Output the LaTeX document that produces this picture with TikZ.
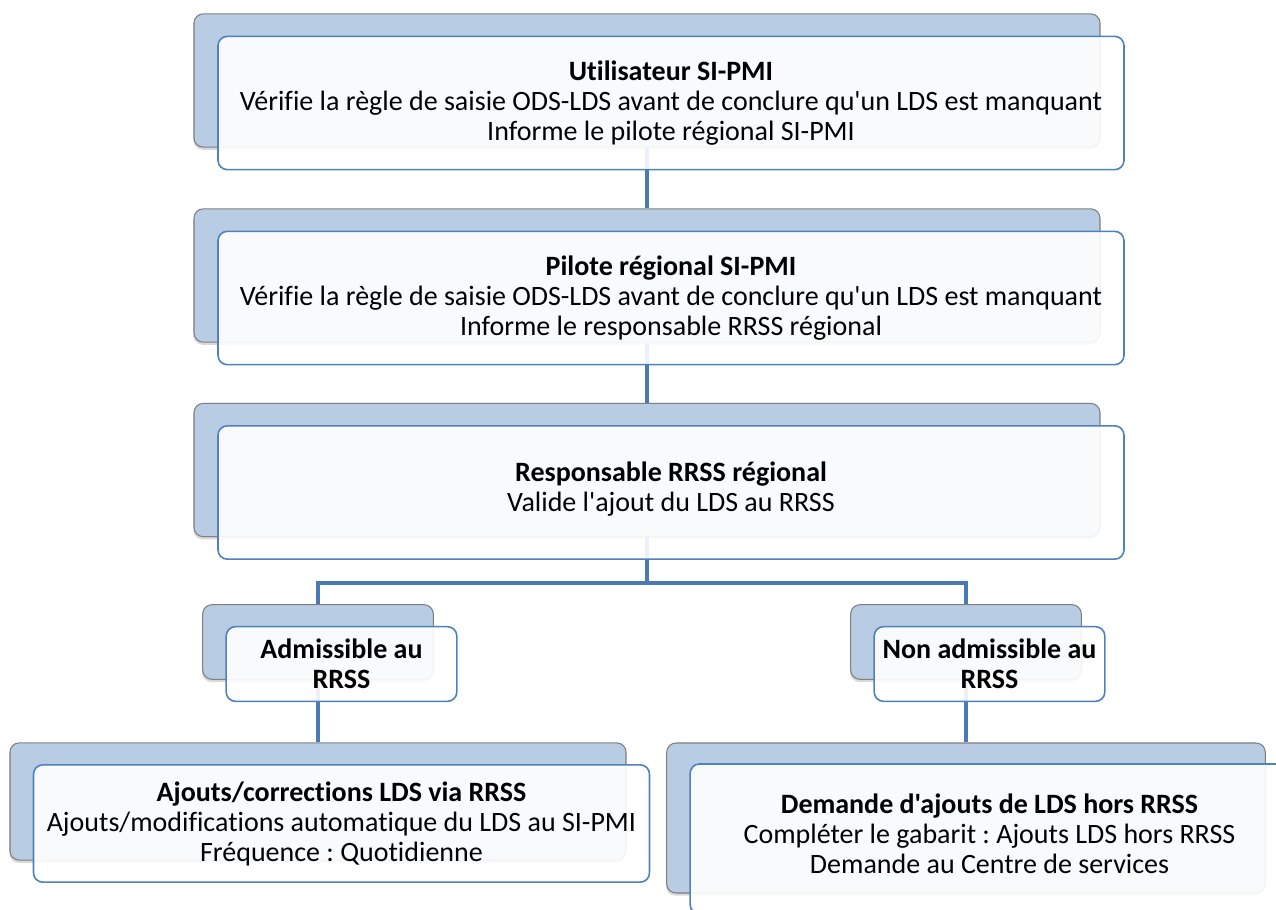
\documentclass[tikz,border=0pt]{standalone}
\usepackage{fontspec}
\setmainfont{Carlito}[Ligatures={TeXOff,NoCommon}]
\usetikzlibrary{calc,backgrounds,shadows}
\definecolor{backfill}{HTML}{B8CCE4}
\definecolor{backline}{HTML}{7F7F7F}
\definecolor{frontline}{HTML}{4F81BD}
\definecolor{linkblue}{HTML}{4A7AB5}
\frenchspacing
\tikzset{
  every node/.style={font=\fontsize{21}{22.5}\selectfont,text=black},
  backbox/.style={draw=backline,line width=0.8pt,fill=backfill,rounded corners=7pt,inner sep=0pt,
    drop shadow={shadow xshift=-0.5pt,shadow yshift=-2pt,opacity=0.3}},
  frontbox/.style={draw=frontline,line width=1.2pt,fill=white,fill opacity=0.9,text opacity=1,
    rounded corners=7pt,align=center,inner sep=0pt},
  bigbox/.style={minimum width=679.5pt,minimum height=100pt},
  smallbox/.style={minimum width=173pt,minimum height=56pt},
  leftbox/.style={minimum width=462pt,minimum height=88pt},
  rightbox/.style={minimum width=449pt,minimum height=112.5pt},
  connector/.style={draw=linkblue,line width=3pt},
}

\begin{document}
\begin{tikzpicture}[x=0.75pt,y=-0.75pt]
\useasboundingbox (0,0) rectangle (1276,909);
\node[backbox,bigbox] (user-b) at (647,80.5) {};
\node[frontbox,bigbox] (user) at ($(user-b)+(24,22.5)$) {\textbf{Utilisateur SI-PMI}\\Vérifie la règle de saisie ODS-LDS avant de conclure qu'un LDS est manquant\\Informe le pilote régional SI-PMI};
\node[backbox,bigbox] (pilot-b) at (647,275.5) {};
\node[frontbox,bigbox] (pilot) at ($(pilot-b)+(24,22.5)$) {\textbf{Pilote régional SI-PMI}\\Vérifie la règle de saisie ODS-LDS avant de conclure qu'un LDS est manquant\\Informe le responsable RRSS régional};
\node[backbox,bigbox] (resp-b) at (647,470) {};
\node[frontbox,bigbox] (resp) at ($(resp-b)+(24,22.5)$) {\textbf{Responsable RRSS régional}\\Valide l'ajout du LDS au RRSS\\[-13.5pt]};
\node[backbox,smallbox] (adm-b) at (318,642) {};
\node[frontbox,smallbox] (adm) at ($(adm-b)+(23.5,22)$) {\textbf{Admissible au}\\\textbf{RRSS}};
\node[backbox,smallbox] (nadm-b) at (966,642) {};
\node[frontbox,smallbox] (nadm) at ($(nadm-b)+(23.5,22)$) {\textbf{Non admissible au}\\\textbf{RRSS}};
\node[backbox,leftbox] (via-b) at (318,801.5) {};
\node[frontbox,leftbox] (via) at ($(via-b)+(23.5,22)$) {\textbf{Ajouts/corrections LDS via RRSS}\\Ajouts/modifications automatique du LDS au SI-PMI\\Fréquence : Quotidienne};
\node[backbox,rightbox] (hors-b) at (966,818) {};
\node[frontbox,rightbox] (hors) at ($(hors-b)+(23.5,21)$) {\textbf{Demande d'ajouts de LDS hors RRSS}\\Compléter le gabarit : Ajouts LDS hors RRSS\\Demande au Centre de services\\[-15pt]};
\coordinate (split) at (647,583);
\begin{scope}[on background layer]
\draw[connector] (user-b.south) -- (pilot-b.north);
\draw[connector] (pilot-b.south) -- (resp-b.north);
\draw[connector] (resp-b.south) -- (split) -| (adm-b.north);
\draw[connector] (split) -| (nadm-b.north);
\draw[connector] (adm-b.south) -- (via-b.north);
\draw[connector] (nadm-b.south) -- (hors-b.north);
\end{scope}
\end{tikzpicture}
\end{document}
